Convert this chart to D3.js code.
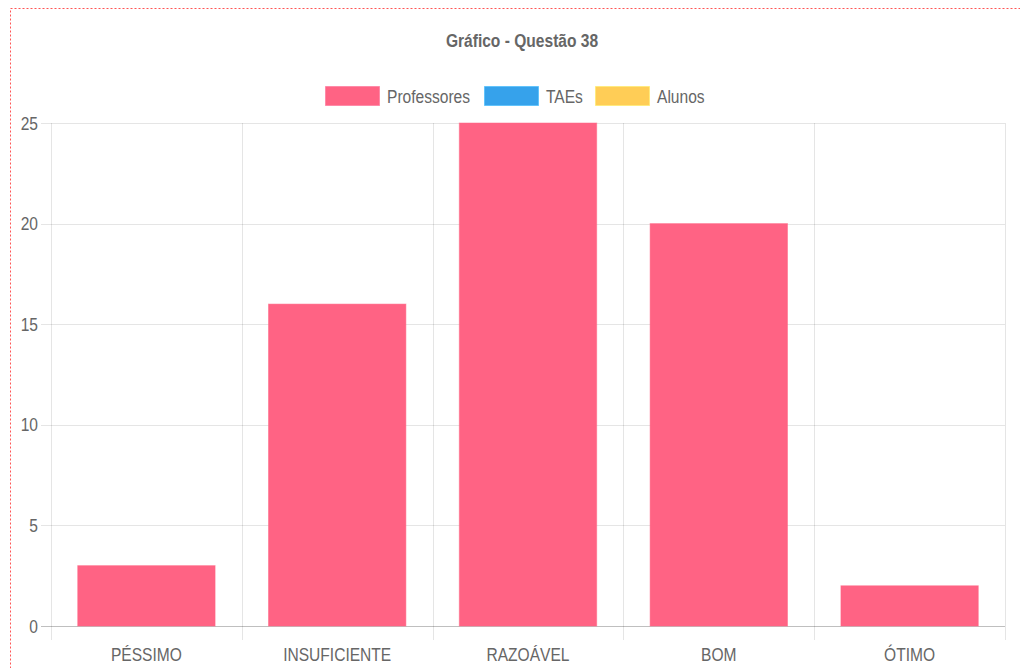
<!DOCTYPE html>
<html><head><meta charset="utf-8">
<script src="https://cdn.jsdelivr.net/npm/d3@7"></script>
<style>
html,body{margin:0;padding:0;background:#fff;}
svg{display:block;}
text{font-family:"Liberation Sans",Arial,sans-serif;}
</style></head>
<body>
<svg id="c" width="1020" height="668"></svg>
<script>
const title = "Gráfico - Questão 38";
const categories = ["PÉSSIMO","INSUFICIENTE","RAZOÁVEL","BOM","ÓTIMO"];
const seriesNames = ["Professores","TAEs","Alunos"];
const seriesColors = ["#ff6384","#36a2eb","#ffcd56"];
const professores = [3,16,25,20,2];
const taes = [];
const alunos = [];
const yTicks = [0,5,10,15,20,25];

const SX = 0.82; // narrow rendering of text
const svg = d3.select("#c");
const m = {l:51, r:1005, t:123, b:626};

function place(sel, fx, fy){
  return sel.attr("transform",(d,i)=>`translate(${fx(d,i)},${fy(d,i)}) scale(${SX},1)`);
}

// dotted frame
svg.append("rect").attr("x",10.5).attr("y",8.5).attr("width",1040).attr("height",700)
  .attr("fill","none").attr("stroke","#f55").attr("stroke-width",1).attr("stroke-dasharray","2,2");

const x = d3.scaleBand().domain(categories).range([m.l,m.r]).paddingInner(0).paddingOuter(0);
const y = d3.scaleLinear().domain([0,25]).range([m.b,m.t]);

// horizontal grid
svg.append("g").selectAll("line").data(yTicks).join("line")
  .attr("x1",m.l-10).attr("x2",m.r)
  .attr("y1",d=>Math.round(y(d))+0.5).attr("y2",d=>Math.round(y(d))+0.5)
  .attr("stroke",d=>d===0?"rgba(0,0,0,0.25)":"rgba(0,0,0,0.1)");

// vertical grid
const vx = categories.map(c=>x(c)).concat([m.r]);
svg.append("g").selectAll("line").data(vx).join("line")
  .attr("x1",d=>Math.round(d)+0.5).attr("x2",d=>Math.round(d)+0.5)
  .attr("y1",m.t).attr("y2",m.b+14)
  .attr("stroke","rgba(0,0,0,0.1)");

// bars
const bw = x.bandwidth()*0.72;
svg.append("g").selectAll("rect").data(professores).join("rect")
  .attr("x",(d,i)=>x(categories[i])+(x.bandwidth()-bw)/2)
  .attr("width",bw)
  .attr("y",d=>y(d))
  .attr("height",d=>y(0)-y(d))
  .attr("fill",seriesColors[0])
  .attr("stroke","rgba(255,99,132,0.5)").attr("stroke-width",1);

// y labels
place(svg.append("g").selectAll("text").data(yTicks).join("text"), ()=>38, d=>y(d))
  .attr("dy","0.35em")
  .attr("text-anchor","end").attr("font-size",19).attr("fill","#666")
  .text(d=>d);

// x labels
place(svg.append("g").selectAll("text").data(categories).join("text"), d=>x(d)+x.bandwidth()/2, ()=>654)
  .attr("dy","0.35em")
  .attr("text-anchor","middle").attr("font-size",19).attr("fill","#666")
  .text(d=>d);

// title
place(svg.append("text").datum(title), ()=>522, ()=>40)
  .attr("dy","0.35em")
  .attr("text-anchor","middle").attr("font-size",19).attr("font-weight","bold").attr("fill","#666")
  .text(title);

// legend
const legX = [325,484,595];
const lg = svg.append("g");
seriesNames.forEach((n,i)=>{
  lg.append("rect").attr("x",legX[i]+0.5).attr("y",86.5).attr("width",54).attr("height",19)
    .attr("fill",seriesColors[i]).attr("stroke",d3.color(seriesColors[i]).brighter(0.4)).attr("stroke-opacity",0.6);
  place(lg.append("text").datum(n), ()=>legX[i]+62, ()=>96)
    .attr("dy","0.35em")
    .attr("font-size",19).attr("fill","#666").text(n);
});
</script>
</body></html>
